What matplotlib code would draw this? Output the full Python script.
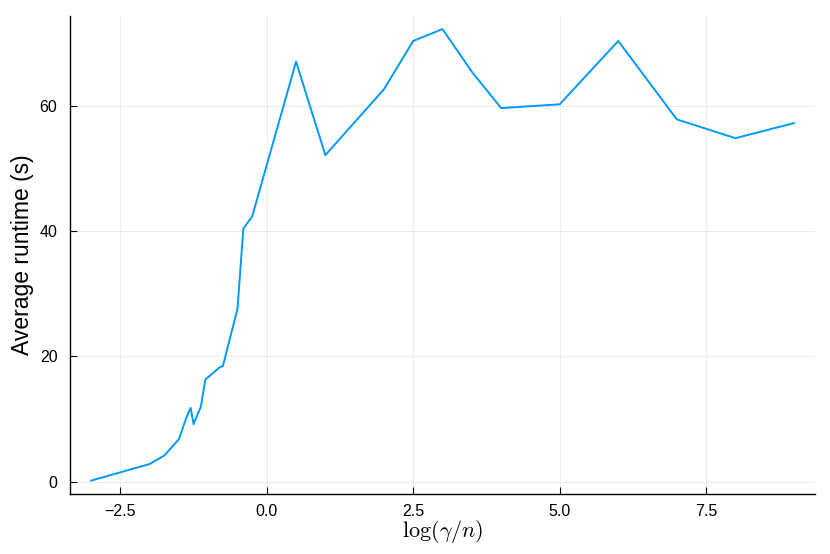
import matplotlib
matplotlib.use("Agg")
import matplotlib.pyplot as plt

# log(gamma/n) values and the measured average runtime (s)
log_gamma_n = [-3.0, -2.0, -1.75, -1.5, -1.375, -1.3, -1.25, -1.125, -1.05,
               -0.8, -0.75, -0.5, -0.4, -0.25, 0.5, 1.0, 2.0, 2.5, 3.0,
               3.5, 4.0, 5.0, 6.0, 7.0, 8.0, 9.0]
runtime = [0.2, 2.85, 4.2, 6.8, 10.2, 11.8, 9.2, 12.0, 16.3,
           18.3, 18.45, 27.6, 40.4, 42.3, 67.0, 52.1, 62.6, 70.3, 72.2,
           65.4, 59.6, 60.2, 70.3, 57.8, 54.8, 57.2]

xticks = [-2.5, 0.0, 2.5, 5.0, 7.5]
yticks = [0, 20, 40, 60]

plt.rcParams['font.family'] = ['Liberation Sans Narrow', 'Liberation Sans', 'DejaVu Sans']
plt.rcParams['mathtext.fontset'] = 'cm'

fig = plt.figure(figsize=(8.3, 5.54), dpi=100)
ax = fig.add_axes([0.0843, 0.108, 0.8977, 0.864])
ax.plot(log_gamma_n, runtime, color='#009AFA', lw=1.4)

xmin, xmax = min(log_gamma_n), max(log_gamma_n)
ymin, ymax = min(runtime), max(runtime)
ax.set_xlim(xmin - 0.03 * (xmax - xmin), xmax + 0.03 * (xmax - xmin))
ax.set_ylim(ymin - 0.03 * (ymax - ymin), ymax + 0.03 * (ymax - ymin))

ax.set_xticks(xticks)
ax.set_xticklabels(['\u22122.5', '0.0', '2.5', '5.0', '7.5'])
ax.set_yticks(yticks)
ax.tick_params(direction='in', length=5, width=0.8, labelsize=11.5)
ax.tick_params(axis='y', pad=9)
ax.tick_params(axis='x', pad=7)
ax.grid(True, color='black', alpha=0.1, lw=0.5)

for side in ['top', 'right']:
    ax.spines[side].set_visible(False)
for side in ['left', 'bottom']:
    ax.spines[side].set_linewidth(1.0)

ax.set_xlabel(r'$\log(\gamma/n)$', fontsize=16, labelpad=-1)
ax.set_ylabel('Average runtime (s)', fontsize=16.5, labelpad=4)

fig.savefig('out.png', dpi=100)
